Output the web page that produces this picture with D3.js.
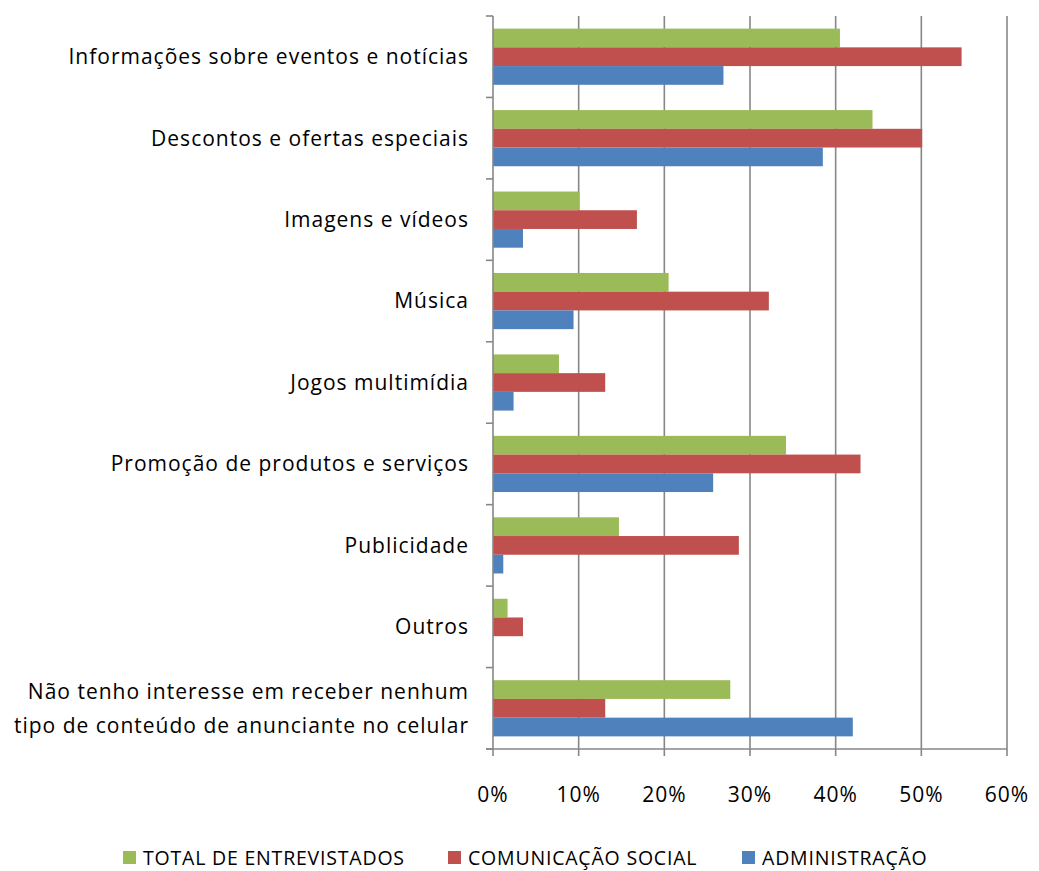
<!DOCTYPE html>
<html>
<head>
<meta charset="utf-8">
<script src="https://cdn.jsdelivr.net/npm/d3@7"></script>
<style>
  html, body { margin: 0; padding: 0; background: #fff; }
  svg { display: block; font-family: "Open Sans", Lato, sans-serif; }
</style>
</head>
<body>
<svg id="chart" width="1039" height="871"></svg>
<script>
const categories = [
  ["Informações sobre eventos e notícias"],
  ["Descontos e ofertas especiais"],
  ["Imagens e vídeos"],
  ["Música"],
  ["Jogos multimídia"],
  ["Promoção de produtos e serviços"],
  ["Publicidade"],
  ["Outros"],
  ["Não tenho interesse em receber nenhum", "tipo de conteúdo de anunciante no celular"]
];
const seriesNames = ["TOTAL DE ENTREVISTADOS", "COMUNICAÇÃO SOCIAL", "ADMINISTRAÇÃO"];
const totalValues = [0.405, 0.443, 0.101, 0.205, 0.077, 0.342, 0.147, 0.017, 0.277];
const comunicacaoValues = [0.547, 0.501, 0.168, 0.322, 0.131, 0.429, 0.287, 0.035, 0.131];
const administracaoValues = [0.269, 0.385, 0.035, 0.094, 0.024, 0.257, 0.012, 0.0, 0.420];
const xTicks = [0, 0.1, 0.2, 0.3, 0.4, 0.5, 0.6];
const colors = ["#9BBB59", "#C0504D", "#4F81BD"];

(function () {
const seriesValues = [totalValues, comunicacaoValues, administracaoValues];
const catKeys = categories.map((c, i) => i);

const svg = d3.select("#chart");
const pLeft = 493, pRight = 1007, pTop = 16, pBottom = 749;

const x = d3.scaleLinear().domain([0, 0.6]).range([pLeft, pRight]);
const y0 = d3.scaleBand().domain(catKeys).range([pTop, pBottom]);
const y1 = d3.scaleBand().domain(d3.range(seriesNames.length))
  .range([0, y0.bandwidth()]).paddingOuter(0.675).paddingInner(0);

// gridlines
svg.append("g").selectAll("line").data(xTicks.slice(1)).join("line")
  .attr("x1", d => x(d)).attr("x2", d => x(d))
  .attr("y1", pTop).attr("y2", pBottom)
  .attr("stroke", "#878787").attr("stroke-width", 1.6);

// bars
const groups = svg.append("g").selectAll("g").data(catKeys).join("g")
  .attr("transform", d => `translate(0,${y0(d)})`);
groups.selectAll("rect")
  .data(ci => seriesValues.map((vals, si) => ({ si, v: vals[ci] })))
  .join("rect")
  .attr("x", x(0))
  .attr("y", d => y1(d.si))
  .attr("width", d => x(d.v) - x(0))
  .attr("height", y1.bandwidth())
  .attr("fill", d => colors[d.si]);

// y axis
const yAxisG = svg.append("g");
yAxisG.append("line").attr("x1", pLeft).attr("x2", pLeft).attr("y1", pTop).attr("y2", pBottom)
  .attr("stroke", "#878787").attr("stroke-width", 1.6);
const yTickPos = catKeys.map(k => y0(k)).concat([pBottom]);
yAxisG.selectAll("line.t").data(yTickPos).join("line").attr("class", "t")
  .attr("x1", pLeft - 7).attr("x2", pLeft).attr("y1", d => d).attr("y2", d => d)
  .attr("stroke", "#878787").attr("stroke-width", 1.6);

// category labels
const labels = svg.append("g").selectAll("text").data(catKeys).join("text")
  .attr("text-anchor", "end")
  .attr("font-size", 21)
  .attr("letter-spacing", 1)
  .attr("fill", "#000")
  .attr("transform", d => `translate(469,${y0(d) + y0.bandwidth() / 2})`);
labels.each(function(d) {
  const lines = categories[d];
  const t = d3.select(this);
  lines.forEach((ln, i) => {
    t.append("tspan").attr("x", 0)
      .attr("y", (i - (lines.length - 1) / 2) * 34)
      .attr("dy", "0.35em").text(ln);
  });
});

// x axis
const xAxisG = svg.append("g");
xAxisG.append("line").attr("x1", pLeft - 7).attr("x2", pRight).attr("y1", pBottom).attr("y2", pBottom)
  .attr("stroke", "#878787").attr("stroke-width", 1.6);
xAxisG.selectAll("line.t").data(xTicks).join("line").attr("class", "t")
  .attr("x1", d => x(d)).attr("x2", d => x(d)).attr("y1", pBottom).attr("y2", pBottom + 7)
  .attr("stroke", "#878787").attr("stroke-width", 1.6);
xAxisG.selectAll("text").data(xTicks).join("text")
  .attr("x", d => x(d)).attr("y", 795).attr("dy", "0.35em")
  .attr("text-anchor", "middle").attr("font-size", 21).attr("letter-spacing", 1)
  .attr("fill", "#000")
  .text(d => d3.format(".0%")(d));

// legend
const legendX = [123, 448, 742];
const lg = svg.append("g").selectAll("g").data(seriesNames).join("g")
  .attr("transform", (d, i) => `translate(${legendX[i]},851)`);
lg.append("rect").attr("width", 13).attr("height", 13).attr("fill", (d, i) => colors[i]);
lg.append("text").attr("x", 20).attr("y", 7).attr("dy", "0.35em")
  .attr("font-size", 19.5).attr("letter-spacing", 0.8)
  .attr("fill", "#000").text(d => d);
})();
</script>
</body>
</html>
